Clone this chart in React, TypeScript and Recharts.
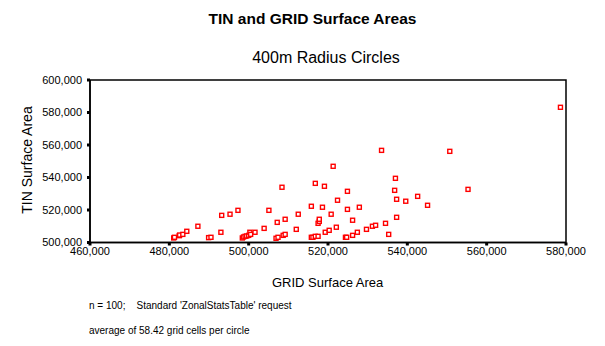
import React from 'react';
import { ScatterChart, Scatter, XAxis, YAxis, ReferenceArea } from 'recharts';

// GRID surface area (x) and TIN surface area (y)
const gridArea = [
  481100, 481300, 482500, 482600, 483400, 484400, 487200, 489900, 490500, 493000,
  493200, 495300, 497300, 498400, 498700, 499100, 499500, 500000, 500300, 500500,
  501600, 503900, 505100, 506900, 507400, 507200, 508400, 508700, 509200, 509200,
  512000, 512500, 515800, 515800, 516200, 516800, 516800, 517500, 517500, 517800,
  517800, 518600, 519100, 519300, 520300, 520800, 521300, 522100, 522400, 524400,
  524700, 524900, 524900, 526200, 526200, 527400, 527900, 529700, 531200, 532000,
  533500, 534500, 535300, 536800, 537000, 537300, 537300, 539600, 542600, 545100,
  550700, 555300, 578600,
];
const tinArea = [
  502800, 503200, 504200, 504600, 505000, 506900, 510000, 503000, 503200, 506300,
  516700, 517400, 519800, 502800, 503400, 503800, 504000, 504400, 506300, 505000,
  506300, 508700, 519800, 502600, 503200, 512400, 534000, 504400, 505000, 514300,
  508100, 517400, 522300, 503200, 503200, 536400, 503800, 503800, 511800, 513000,
  514300, 521700, 534600, 506300, 507500, 517400, 546900, 509400, 526000, 503200,
  503200, 531500, 520400, 504400, 513700, 506300, 521700, 508100, 510000, 510600,
  556700, 511800, 505000, 532100, 539500, 526600, 515500, 525400, 528400, 522900,
  556100, 532700, 583200,
];

const xTicks = [460000, 480000, 500000, 520000, 540000, 560000, 580000];
const yTicks = [500000, 520000, 540000, 560000, 580000, 600000];

const points = gridArea.map((g, i) => ({ grid: g, tin: tinArea[i] }));

const FONT = '"Liberation Sans", Arial, sans-serif';
const fmt = (v: number) => v.toLocaleString('en-US');

const SquareMarker = (props: any) => {
  const { cx, cy } = props;
  return <rect x={cx - 2} y={cy - 2} width={4} height={4} fill="#fff" stroke="#ff0000" strokeWidth={1.4} />;
};

export default function App() {
  return (
    <div style={{ position: 'absolute', left: 0, top: 0, width: 605, height: 346, background: '#fff', fontFamily: FONT }}>
      <div style={{ position: 'absolute', left: 0, width: 605, top: 10, textAlign: 'center', fontSize: 15.5, fontWeight: 'bold', paddingLeft: 20, boxSizing: 'border-box' }}>
        TIN and GRID Surface Areas
      </div>
      <div style={{ position: 'absolute', left: 0, width: 605, top: 49, textAlign: 'center', fontSize: 16, paddingLeft: 47, boxSizing: 'border-box' }}>
        400m Radius Circles
      </div>

      <ScatterChart width={605} height={346} margin={{ top: 80, right: 39, bottom: 73.5, left: 30 }}>
        <XAxis
          type="number"
          dataKey="grid"
          domain={[460000, 580000]}
          ticks={xTicks}
          tickFormatter={fmt}
          height={30}
          tickSize={3}
          tickMargin={2}
          axisLine={{ stroke: '#000', strokeWidth: 1.5 }}
          tickLine={{ stroke: '#000', strokeWidth: 3 }}
          tick={{ fill: '#000', fontSize: 11, fontFamily: FONT }}
          allowDataOverflow
        />
        <YAxis
          type="number"
          dataKey="tin"
          domain={[500000, 600000]}
          ticks={yTicks}
          tickFormatter={fmt}
          width={60}
          tickSize={3}
          tickMargin={5}
          axisLine={{ stroke: '#000', strokeWidth: 1.5 }}
          tickLine={{ stroke: '#000', strokeWidth: 3 }}
          tick={{ fill: '#000', fontSize: 11, fontFamily: FONT }}
          allowDataOverflow
        />
        <ReferenceArea x1={460000} x2={580000} y1={500000} y2={600000} fill="none" stroke="#000" strokeWidth={1.5} />
        <Scatter data={points} shape={<SquareMarker />} isAnimationActive={false} />
      </ScatterChart>

      <div style={{ position: 'absolute', left: 27, top: 160, fontSize: 14, transform: 'translate(-50%, -50%) rotate(-90deg)', whiteSpace: 'nowrap' }}>
        TIN Surface Area
      </div>
      <div style={{ position: 'absolute', left: 272, top: 275, fontSize: 13, whiteSpace: 'nowrap' }}>
        GRID Surface Area
      </div>
      <div style={{ position: 'absolute', left: 89, top: 300, fontSize: 10, whiteSpace: 'pre' }}>
        {"n = 100;    Standard 'ZonalStatsTable' request"}
      </div>
      <div style={{ position: 'absolute', left: 89, top: 325, fontSize: 10, whiteSpace: 'pre' }}>
        average of 58.42 grid cells per circle
      </div>
    </div>
  );
}
